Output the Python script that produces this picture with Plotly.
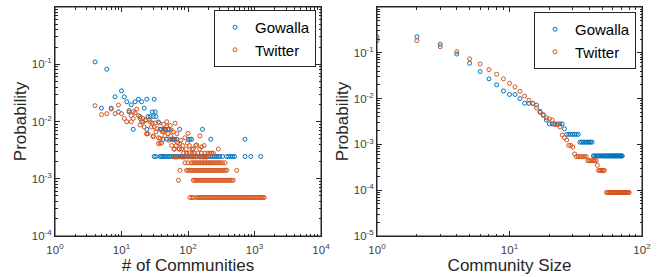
import plotly.graph_objects as go

BLUE = "#0072BD"
ORANGE = "#D95319"
AX = "#262626"

# ---------------- left panel: # of communities per user ----------------
gow_comm_x = [4, 6, 5, 7, 8, 9, 10, 11, 12, 13, 14, 15, 16, 18, 19, 20, 21, 22, 24, 24, 25, 27, 29,
              30, 31, 32, 33, 36, 38, 40, 42, 44, 46, 48, 50, 52, 55, 58, 60, 63, 75, 68, 100, 107,
              113, 165, 220, 720,
              31, 33, 38, 40, 42, 44, 47, 50, 53, 56, 60, 64, 68, 72, 77, 82, 88, 94, 100, 107, 114,
              122, 130, 139, 148, 158, 168, 180, 192, 205, 218, 232, 248, 265, 283, 300, 330, 380,
              410, 440, 470, 500, 720, 880, 1240]
gow_comm_p = [0.110, 0.082, 0.0171, 0.0171, 0.0270, 0.0147, 0.0343, 0.0270, 0.0221, 0.0147, 0.0196,
              0.0073, 0.0221, 0.0245, 0.0122, 0.0221, 0.0098, 0.0171, 0.0245, 0.0073, 0.0122, 0.0122,
              0.0147, 0.0122, 0.0245, 0.0147, 0.0122, 0.0098, 0.0073, 0.0073, 0.0049, 0.0073, 0.0073,
              0.0049, 0.0073, 0.0073, 0.0049, 0.0049, 0.0049, 0.0049, 0.0073, 0.0049, 0.0049, 0.0049,
              0.0049, 0.0073, 0.0049, 0.0049,
              0.00245, 0.00245, 0.00245, 0.00245, 0.00245, 0.00245, 0.00245, 0.00245, 0.00245,
              0.00245, 0.00245, 0.00245, 0.00245, 0.00245, 0.00245, 0.00245, 0.00245, 0.00245,
              0.00245, 0.00245, 0.00245, 0.00245, 0.00245, 0.00245, 0.00245, 0.00245, 0.00245,
              0.00245, 0.00245, 0.00245, 0.00245, 0.00245, 0.00245, 0.00245, 0.00245, 0.00245,
              0.00245, 0.00245, 0.00245, 0.00245, 0.00245, 0.00245, 0.00245, 0.00245, 0.00245]

tw_comm_x = [4, 5, 6, 7, 8, 9, 10, 11, 12, 13, 14, 15, 16, 17, 18, 19, 20, 21, 22, 23, 24, 25, 26,
             27, 28, 29, 30, 31, 32, 33, 34, 36, 37, 38, 40, 41, 43, 45, 46, 48, 50, 52, 54, 55, 57,
             60, 62, 64, 66, 68, 70, 74, 78, 83, 90, 98, 105, 130, 135, 151, 160, 175, 286,
             15, 14, 19, 23, 24, 30, 36, 38, 43, 48, 56, 64, 76, 100,
             # 0.0033 level
             62, 74, 80, 94, 115, 120, 150,
             # 0.0028 level
             86, 95, 105, 115, 125, 140, 160, 180, 200, 215, 227, 240,
             # 0.0024 level
             62, 66, 70, 80, 85, 90, 100, 110, 120, 130, 150, 160, 170, 180, 190,
             # 0.0019 level
             90, 100, 112, 118, 125, 132, 139, 147, 155, 163, 172, 182, 192, 202, 213, 225, 237,
             250, 264, 279, 294, 310, 330, 360,
             # 0.0014 level
             76, 95, 100, 106, 112, 118, 125, 132, 139, 147, 155, 163, 172, 182, 192, 202, 213,
             225, 237, 250, 264, 279, 294, 310, 327, 345, 364, 384, 540,
             # 0.00094 level
             72, 120, 126, 133, 140, 148, 156, 165, 174, 183, 193, 204, 215, 227, 240, 253, 267,
             282, 297, 313, 330, 348, 367, 387, 408, 430, 455, 480,
             # 0.00047 level
             107, 115, 122, 135, 142, 150, 158, 167, 176, 186, 196, 207, 218, 230, 243, 256, 270,
             285, 300, 317, 334, 352, 372, 392, 414, 436, 460, 485, 512, 540, 570, 600, 634, 668,
             705, 744, 785, 828, 873, 921, 972, 1025, 1081, 1140, 1203, 1270, 1340, 1400]
tw_comm_p = [0.0189, 0.0132, 0.0137, 0.0165, 0.0137, 0.0194, 0.0137, 0.0113, 0.0099, 0.0156, 0.0127,
             0.0113, 0.0141, 0.0165, 0.0127, 0.0113, 0.0099, 0.0113, 0.0080, 0.0104, 0.0061, 0.0061,
             0.0108, 0.0099, 0.0080, 0.0094, 0.0056, 0.0080, 0.0094, 0.0066, 0.0075, 0.0052, 0.0094,
             0.0042, 0.0042, 0.0066, 0.0089, 0.0056, 0.0070, 0.0099, 0.0061, 0.0047, 0.0085, 0.0056,
             0.0038, 0.0066, 0.0033, 0.0047, 0.0038, 0.0061, 0.0042, 0.0033, 0.0047, 0.0038, 0.0052,
             0.0042, 0.0038, 0.0038, 0.0039, 0.0056, 0.0036, 0.0038, 0.0033,
             0.0149, 0.0099, 0.0087, 0.0107, 0.0061, 0.0054, 0.0041, 0.0051, 0.0067, 0.0081, 0.0071,
             0.0093, 0.0041, 0.0062,
             0.0033, 0.0033, 0.0033, 0.0033, 0.0033, 0.0033, 0.0033,
             0.0028, 0.0028, 0.0028, 0.0028, 0.0028, 0.0028, 0.0028, 0.0028, 0.0028, 0.0028, 0.0028,
             0.0028,
             0.0024, 0.0024, 0.0024, 0.0024, 0.0024, 0.0024, 0.0024, 0.0024, 0.0024, 0.0024, 0.0024,
             0.0024, 0.0024, 0.0024, 0.0024,
             0.0019, 0.0019, 0.0019, 0.0019, 0.0019, 0.0019, 0.0019, 0.0019, 0.0019, 0.0019, 0.0019,
             0.0019, 0.0019, 0.0019, 0.0019, 0.0019, 0.0019, 0.0019, 0.0019, 0.0019, 0.0019, 0.0019,
             0.0019, 0.0019,
             0.0014, 0.0014, 0.0014, 0.0014, 0.0014, 0.0014, 0.0014, 0.0014, 0.0014, 0.0014, 0.0014,
             0.0014, 0.0014, 0.0014, 0.0014, 0.0014, 0.0014, 0.0014, 0.0014, 0.0014, 0.0014, 0.0014,
             0.0014, 0.0014, 0.0014, 0.0014, 0.0014, 0.0014, 0.0014,
             0.00094, 0.00094, 0.00094, 0.00094, 0.00094, 0.00094, 0.00094, 0.00094, 0.00094,
             0.00094, 0.00094, 0.00094, 0.00094, 0.00094, 0.00094, 0.00094, 0.00094, 0.00094,
             0.00094, 0.00094, 0.00094, 0.00094, 0.00094, 0.00094, 0.00094, 0.00094, 0.00094,
             0.00094,
             0.00047, 0.00047, 0.00047, 0.00047, 0.00047, 0.00047, 0.00047, 0.00047, 0.00047,
             0.00047, 0.00047, 0.00047, 0.00047, 0.00047, 0.00047, 0.00047, 0.00047, 0.00047,
             0.00047, 0.00047, 0.00047, 0.00047, 0.00047, 0.00047, 0.00047, 0.00047, 0.00047,
             0.00047, 0.00047, 0.00047, 0.00047, 0.00047, 0.00047, 0.00047, 0.00047, 0.00047,
             0.00047, 0.00047, 0.00047, 0.00047, 0.00047, 0.00047, 0.00047, 0.00047, 0.00047,
             0.00047, 0.00047, 0.00047]

# ---------------- right panel: community size ----------------
gow_size_x = list(range(1, 27)) + list(range(27, 34)) + list(range(34, 43)) + list(range(43, 72))
gow_size_p = ([0.225, 0.225, 0.153, 0.094, 0.059, 0.039, 0.027, 0.020, 0.0147, 0.0123, 0.0123,
               0.0100, 0.0079, 0.0079, 0.0079, 0.0072, 0.0050, 0.0043, 0.0034, 0.0028, 0.0028,
               0.0028, 0.0028, 0.0028, 0.0028, 0.0022]
              + [0.00166] * 7 + [0.00112] * 9 + [0.00056] * 29)

tw_size_x = list(range(1, 53)) + list(range(54, 81))
tw_size_p = ([0.184, 0.184, 0.136, 0.106, 0.074, 0.057, 0.043, 0.034, 0.027, 0.0216, 0.018,
              0.0144, 0.0114, 0.0092, 0.0078, 0.0063, 0.0053, 0.0045, 0.0038, 0.0036, 0.0034,
              0.0027, 0.0027, 0.0024, 0.0016, 0.0014, 0.00125, 0.00095, 0.00095, 0.00087, 0.00062]
             + [0.00054] * 7 + [0.00044] * 7 + [0.00035] + [0.00027] * 6 + [0.000089] * 27)

left_xticks = [1, 10, 100, 1000, 10000]
left_xticktext = ["10<sup>0</sup>", "10<sup>1</sup>", "10<sup>2</sup>", "10<sup>3</sup>", "10<sup>4</sup>"]
left_yticks = [1e-4, 1e-3, 1e-2, 1e-1, 1]
left_yticktext = ["10<sup>-4</sup>", "10<sup>-3</sup>", "10<sup>-2</sup>", "10<sup>-1</sup>", "10<sup>0</sup>"]
right_xticks = [1, 10, 100]
right_xticktext = ["10<sup>0</sup>", "10<sup>1</sup>", "10<sup>2</sup>"]
right_yticks = [1e-5, 1e-4, 1e-3, 1e-2, 1e-1, 1]
right_yticktext = ["10<sup>-5</sup>", "10<sup>-4</sup>", "10<sup>-3</sup>", "10<sup>-2</sup>",
                   "10<sup>-1</sup>", "10<sup>0</sup>"]

FONT = "Liberation Sans, Arial, Helvetica, sans-serif"


def mk(color):
    return dict(symbol="circle-open", size=4, color=color, line=dict(width=1, color=color))


fig = go.Figure()
fig.add_trace(go.Scatter(x=gow_comm_x, y=gow_comm_p, mode="markers", name="Gowalla",
                         marker=mk(BLUE), xaxis="x", yaxis="y", legend="legend"))
fig.add_trace(go.Scatter(x=tw_comm_x, y=tw_comm_p, mode="markers", name="Twitter",
                         marker=mk(ORANGE), xaxis="x", yaxis="y", legend="legend"))
fig.add_trace(go.Scatter(x=gow_size_x, y=gow_size_p, mode="markers", name="Gowalla",
                         marker=mk(BLUE), xaxis="x2", yaxis="y2", legend="legend2"))
fig.add_trace(go.Scatter(x=tw_size_x, y=tw_size_p, mode="markers", name="Twitter",
                         marker=mk(ORANGE), xaxis="x2", yaxis="y2", legend="legend2"))


def axis(domain, rng, tv, tt, title, anchor, standoff, lblgap):
    return dict(type="log", domain=domain, range=rng, anchor=anchor,
                tickmode="array", tickvals=tv, ticktext=tt,
                showline=True, linecolor=AX, linewidth=1, mirror="allticks",
                ticks="inside", ticklen=5, tickcolor=AX, tickwidth=1,
                minor=dict(ticks="inside", ticklen=2.5, tickcolor=AX, dtick="D1", showgrid=False),
                showgrid=False, zeroline=False,
                tickfont=dict(family=FONT, size=11.5, color="#404040"),
                ticklabelstandoff=lblgap,
                title=dict(text=title, font=dict(family=FONT, size=17, color=AX), standoff=standoff),
                automargin=False)


ydom = [41 / 277, 270 / 277]
fig.update_layout(
    width=664, height=277, autosize=False,
    margin=dict(l=0, r=0, t=0, b=0),
    paper_bgcolor="white", plot_bgcolor="white",
    showlegend=True,
    xaxis=axis([55 / 664, 321 / 664], [0, 4], left_xticks, left_xticktext, "# of Communities", "y", 3, 3),
    yaxis=axis(ydom, [-4, 0], left_yticks, left_yticktext, "Probability", "x", 0, 0),
    xaxis2=axis([377 / 664, 642 / 664], [0, 2], right_xticks, right_xticktext, "Community Size", "y2", 3, 3),
    yaxis2=axis(ydom, [-5, 0], right_yticks, right_yticktext, "Probability", "x2", 0, 0),
    legend=dict(x=316 / 664, y=267 / 277, xanchor="right", yanchor="top",
                bordercolor=AX, borderwidth=1, bgcolor="white",
                font=dict(family=FONT, size=15, color="#000"), itemwidth=30, tracegroupgap=0),
    legend2=dict(x=636 / 664, y=265 / 277, xanchor="right", yanchor="top",
                 bordercolor=AX, borderwidth=1, bgcolor="white",
                 font=dict(family=FONT, size=15, color="#000"), itemwidth=30, tracegroupgap=0),
    shapes=[
        dict(type="rect", xref="x domain", yref="y domain", x0=0, x1=1, y0=0, y1=1,
             line=dict(color=AX, width=1), layer="above"),
        dict(type="rect", xref="x2 domain", yref="y2 domain", x0=0, x1=1, y0=0, y1=1,
             line=dict(color=AX, width=1), layer="above"),
    ],
)

fig.write_html("out.html", config={"displayModeBar": False},
               post_script="document.body.style.margin='0';document.body.style.padding='0';")
